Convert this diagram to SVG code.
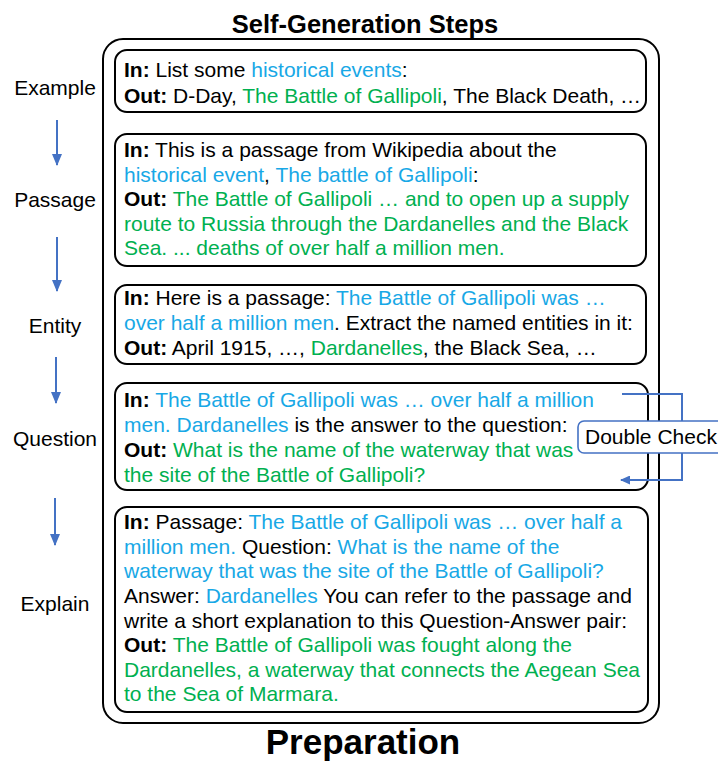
<svg xmlns="http://www.w3.org/2000/svg" width="718" height="762" viewBox="0 0 718 762">
  <style>
    text { font-family: "Liberation Sans", Arial, sans-serif; fill: #000; }
    .t { font-size: 21px; }
    .b { font-weight: bold; }
    .blue { fill: #18A8E6; }
    .green { fill: #00B050; }
    .lbl { font-size: 21px; text-anchor: middle; }
    .frame { fill: none; stroke: #000; stroke-width: 2; }
    .step { fill: #fff; stroke: #000; stroke-width: 2; }
    .flow { stroke: #4472C4; stroke-width: 2; fill: none; }
  </style>
  <defs>
    <marker id="tri" viewBox="0 0 12 10" refX="11" refY="5" markerWidth="12" markerHeight="10" markerUnits="userSpaceOnUse" orient="auto">
      <path d="M0,0 L12,5 L0,10 z" fill="#4472C4"/>
    </marker>
    <marker id="triL" viewBox="0 0 10 9" refX="9" refY="4.5" markerWidth="10" markerHeight="9" markerUnits="userSpaceOnUse" orient="auto">
      <path d="M0,0 L10,4.5 L0,9 z" fill="#4472C4"/>
    </marker>
  </defs>

  <!-- headings -->
  <text x="365" y="33" class="b" font-size="25.5" text-anchor="middle">Self-Generation Steps</text>
  <text x="363" y="754" class="b" font-size="35" text-anchor="middle">Preparation</text>

  <!-- enclosing frame -->
  <rect x="103" y="39" width="556" height="684" rx="20" class="frame"/>

  <!-- step labels -->
  <g id="labels">
    <text x="55" y="95" class="lbl">Example</text>
    <text x="55" y="207" class="lbl">Passage</text>
    <text x="55" y="333" class="lbl">Entity</text>
    <text x="55" y="446" class="lbl">Question</text>
    <text x="55" y="611" class="lbl">Explain</text>
  </g>

  <!-- step 1: example -->
  <g id="step-example">
    <rect x="115" y="50" width="531" height="62" rx="12" class="step"/>
    <text x="124" y="77" class="t"><tspan class="b">In:</tspan> List some <tspan class="blue">historical events</tspan>:</text>
    <text x="124" y="103" class="t"><tspan class="b">Out:</tspan> D-Day, <tspan class="green">The Battle of Gallipoli</tspan>, The Black Death, …</text>
  </g>

  <!-- step 2: passage -->
  <g id="step-passage">
    <rect x="115" y="134" width="531" height="132" rx="12" class="step"/>
    <text x="124" y="157" class="t"><tspan class="b">In:</tspan> This is a passage from Wikipedia about the</text>
    <text x="124" y="182" class="t"><tspan class="blue">historical event</tspan>, <tspan class="blue">The battle of Gallipoli</tspan>:</text>
    <text x="124" y="206" class="t"><tspan class="b">Out:</tspan> <tspan class="green">The Battle of Gallipoli … and to open up a supply</tspan></text>
    <text x="124" y="231" class="t green">route to Russia through the Dardanelles and the Black</text>
    <text x="124" y="255" class="t green">Sea. ... deaths of over half a million men.</text>
  </g>

  <!-- step 3: entity -->
  <g id="step-entity">
    <rect x="115" y="285" width="531" height="79" rx="12" class="step"/>
    <text x="124" y="305" class="t"><tspan class="b">In:</tspan> Here is a passage: <tspan class="blue">The Battle of Gallipoli was …</tspan></text>
    <text x="124" y="330" class="t"><tspan class="blue">over half a million men</tspan>. Extract the named entities in it:</text>
    <text x="124" y="355" class="t"><tspan class="b">Out:</tspan> April 1915, …, <tspan class="green">Dardanelles</tspan>, the Black Sea, …</text>
  </g>

  <!-- step 4: question -->
  <g id="step-question">
    <rect x="115" y="383" width="533" height="107" rx="12" class="step"/>
    <text x="124" y="407" class="t"><tspan class="b">In:</tspan> <tspan class="blue">The Battle of Gallipoli was … over half a million</tspan></text>
    <text x="124" y="432" class="t"><tspan class="blue">men. Dardanelles</tspan> is the answer to the question:</text>
    <text x="124" y="457" class="t"><tspan class="b">Out:</tspan> <tspan class="green">What is the name of the waterway that was</tspan></text>
    <text x="124" y="482" class="t green">the site of the Battle of Gallipoli?</text>
  </g>

  <!-- step 5: explain -->
  <g id="step-explain">
    <rect x="115" y="507" width="533" height="205" rx="12" class="step"/>
    <text x="124" y="529" class="t"><tspan class="b">In:</tspan> Passage: <tspan class="blue">The Battle of Gallipoli was … over half a</tspan></text>
    <text x="124" y="554" class="t"><tspan class="blue">million men.</tspan> Question: <tspan class="blue">What is the name of the</tspan></text>
    <text x="124" y="578" class="t blue">waterway that was the site of the Battle of Gallipoli?</text>
    <text x="124" y="603" class="t">Answer: <tspan class="blue">Dardanelles</tspan> You can refer to the passage and</text>
    <text x="124" y="628" class="t">write a short explanation to this Question-Answer pair:</text>
    <text x="124" y="652" class="t"><tspan class="b">Out:</tspan> <tspan class="green">The Battle of Gallipoli was fought along the</tspan></text>
    <text x="124" y="677" class="t green">Dardanelles, a waterway that connects the Aegean Sea</text>
    <text x="124" y="701" class="t green">to the Sea of Marmara.</text>
  </g>

  <!-- connectors: step arrows and the double-check loop -->
  <g id="connectors">
    <line x1="57" y1="120" x2="57" y2="165" class="flow" marker-end="url(#tri)"/>
    <line x1="57" y1="237" x2="57" y2="291" class="flow" marker-end="url(#tri)"/>
    <line x1="56" y1="357" x2="56" y2="403" class="flow" marker-end="url(#tri)"/>
    <line x1="55" y1="498" x2="55" y2="545" class="flow" marker-end="url(#tri)"/>
    <polyline points="622,394 682,394 682,480 621,480" class="flow" stroke-width="1.6" marker-end="url(#triL)"/>
  </g>

  <!-- double-check loop label -->
  <g id="double-check">
    <rect x="578" y="421" width="150" height="32" rx="6" fill="#fff" stroke="#4472C4" stroke-width="1.6"/>
    <text x="585" y="444" class="t">Double Check</text>
  </g>
</svg>
